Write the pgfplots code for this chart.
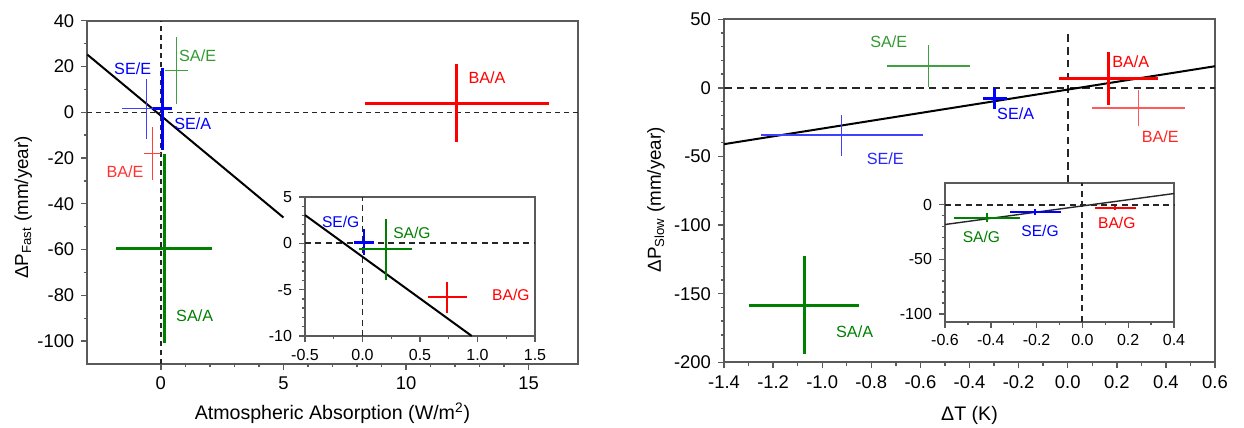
\documentclass[border=0pt]{standalone}
\usepackage{fontspec}
\setmainfont{Liberation Sans}
\usepackage{pgfplots}
\pgfplotsset{compat=1.18}
\definecolor{ogreen}{RGB}{0,128,0}
\definecolor{axgray}{RGB}{90,90,90}
\pgfplotsset{
  orig/.style={scale only axis, axis line style={color=axgray, line width=0.9pt},
    tick pos=left, tick align=outside, major tick length=3pt, minor tick length=1.7pt,
    every tick/.style={axgray, line width=0.7pt},
    /pgf/number format/assume math mode=true,
    tick label style={font=\fontsize{9.2}{11}\selectfont},
    clip=false},
  cross/.style n args={2}{draw=none, mark=none, forget plot,
    error bars/.cd, x dir=both, x explicit, y dir=both, y explicit, error mark=none,
    error bar style={draw=#1, line width=#2, solid}},
  zeroline/.style={black!85, line width=0.8pt, dash pattern=on 2.5pt off 2pt, forget plot},
}
\tikzset{
  lbl/.style={font=\fontsize{8.1}{9}\selectfont, inner sep=0pt},
  slbl/.style={font=\fontsize{7.8}{9}\selectfont, inner sep=0pt},
}
\begin{document}
\begin{tikzpicture}
\useasboundingbox (0,0) rectangle (622pt,214pt);
% ---------------- left main
\begin{axis}[orig, at={(43.65pt,32pt)}, anchor=south west, width=245.2pt, height=171.65pt,
  xmin=-3, xmax=17, ymin=-110, ymax=40,
  xtick={0,5,10,15}, ytick={-100,-80,-60,-40,-20,0,20,40},
  minor x tick num=4, minor y tick num=1,
  xlabel={Atmospheric Absorption (W/m\textsuperscript{2})},
  ylabel={ΔP\textsubscript{Fast} (mm/year)},
  every axis x label/.style={at={([yshift=-24.5pt]rel axis cs:0.5,0)}, anchor=center, font=\fontsize{9.8}{11}\selectfont},
  every axis y label/.style={at={([xshift=-32pt,yshift=-7.5pt]rel axis cs:0,0.5)}, rotate=90, anchor=center, font=\fontsize{9.4}{11}\selectfont},
]
\addplot[zeroline, line width=0.65pt, dash pattern=on 2.5pt off 2pt] coordinates {(0,-110) (0,40)};
\addplot[zeroline, line width=0.65pt, dash pattern=on 2.5pt off 2pt] coordinates {(-3,0) (17,0)};
\addplot[black, line width=1pt, forget plot] coordinates {(-3,25.2) (5,-46.0)};
\addplot[cross={blue!75}{0.6pt}] coordinates {(-0.58,1.5) +- (1.0,13.2)};
\addplot[cross={ogreen!75}{0.6pt}] coordinates {(0.63,18.3) +- (0.47,14.7)};
\addplot[cross={red!75}{0.6pt}] coordinates {(-0.35,-18.0) +- (0.34,11.4)};
\addplot[cross={blue}{1.5pt}] coordinates {(0.06,1.5) +- (0.4,18.0)};
\addplot[cross={ogreen}{1.5pt}] coordinates {(0.13,-59.5) +- (1.95,41.2)};
\addplot[cross={red}{1.5pt}] coordinates {(12.07,4.0) +- (3.74,17.2)};
\node[lbl, text=blue] at (axis cs:-1.15,19.1) {SE/E};
\node[lbl, text=ogreen!80] at (axis cs:1.5,24.9) {SA/E};
\node[lbl, text=blue] at (axis cs:1.3,-5) {SE/A};
\node[lbl, text=red!80] at (axis cs:-1.46,-26) {BA/E};
\node[lbl, text=red] at (axis cs:13.3,15.3) {BA/A};
\node[lbl, text=ogreen] at (axis cs:1.38,-89) {SA/A};
\end{axis}
% ---------------- left inset
\begin{axis}[orig, at={(152.5pt,46pt)}, anchor=south west, width=115pt, height=69.5pt,
  xmin=-0.5, xmax=1.5, ymin=-10, ymax=5,
  xtick={-0.5,0,0.5,1,1.5}, ytick={-10,-5,0,5},
  minor x tick num=1, minor y tick num=4,
  axis background/.style={fill=white},
  tick label style={font=\fontsize{8}{9}\selectfont},
  xticklabel style={/pgf/number format/.cd, fixed, fixed zerofill, precision=1},
]
\addplot[zeroline, line width=0.95pt, dash pattern=on 3pt off 2.2pt] coordinates {(0,-10) (0,5)};
\addplot[zeroline, line width=0.95pt, dash pattern=on 3pt off 2.2pt] coordinates {(-0.5,0) (1.5,0)};
\addplot[black, line width=1pt, forget plot] coordinates {(-0.5,3.05) (0.95,-10)};
\addplot[cross={blue}{1.1pt}] coordinates {(0.015,0.1) +- (0.087,1.4)};
\addplot[cross={ogreen}{1pt}] coordinates {(0.2,-0.65) +- (0.23,3.3)};
\addplot[cross={red}{1pt}] coordinates {(0.737,-5.8) +- (0.17,1.67)};
\node[slbl, text=blue] at (axis cs:-0.19,2.3) {SE/G};
\node[slbl, text=ogreen] at (axis cs:0.43,1.08) {SA/G};
\node[slbl, text=red] at (axis cs:1.29,-5.6) {BA/G};
\end{axis}
% ---------------- right main
\begin{axis}[orig, at={(362pt,32.85pt)}, anchor=south west, width=245.5pt, height=171.5pt,
  xmin=-1.4, xmax=0.6, ymin=-200, ymax=50,
  xtick={-1.4,-1.2,-1,-0.8,-0.6,-0.4,-0.2,0,0.2,0.4,0.6},
  ytick={-200,-150,-100,-50,0,50},
  minor x tick num=1, minor y tick num=4,
  xticklabel style={/pgf/number format/.cd, fixed, fixed zerofill, precision=1},
  xlabel={ΔT (K)},
  ylabel={ΔP\textsubscript{Slow} (mm/year)},
  every axis x label/.style={at={([yshift=-26.5pt]rel axis cs:0.5,0)}, anchor=center, font=\fontsize{9.8}{11}\selectfont},
  every axis y label/.style={at={([xshift=-34pt,yshift=-4.5pt]rel axis cs:0,0.5)}, rotate=90, anchor=center, font=\fontsize{9.4}{11}\selectfont},
]
\addplot[zeroline, line width=1pt, dash pattern=on 3.8pt off 2.6pt] coordinates {(0,-69) (0,42)};
\addplot[zeroline, line width=1pt, dash pattern=on 3.8pt off 2.6pt] coordinates {(-1.4,0) (0.6,0)};
\addplot[black, line width=1pt, forget plot] coordinates {(-1.4,-41) (0.6,15.8)};
\addplot[cross={ogreen!75}{0.6pt}] coordinates {(-0.568,16) +- (0.17,15)};
\addplot[cross={blue!75}{0.6pt}] coordinates {(-0.92,-34.4) +- (0.33,15)};
\addplot[cross={red!65}{0.6pt}] coordinates {(0.288,-14.6) +- (0.19,13.4)};
\addplot[cross={blue}{1.5pt}] coordinates {(-0.297,-7.7) +- (0.05,7.6)};
\addplot[cross={red}{1.5pt}] coordinates {(0.166,6.8) +- (0.2,19.4)};
\addplot[cross={ogreen}{1.5pt}] coordinates {(-1.074,-158.4) +- (0.225,35.7)};
\node[lbl, text=ogreen!80] at (axis cs:-0.729,33.5) {SA/E};
\node[lbl, text=blue!85] at (axis cs:-0.743,-51.4) {SE/E};
\node[lbl, text=blue] at (axis cs:-0.212,-19.1) {SE/A};
\node[lbl, text=red] at (axis cs:0.257,18.9) {BA/A};
\node[lbl, text=red!85] at (axis cs:0.377,-35.7) {BA/E};
\node[lbl, text=ogreen] at (axis cs:-0.868,-177.5) {SA/A};
\end{axis}
% ---------------- right inset
\begin{axis}[orig, at={(472.5pt,53.15pt)}, anchor=south west, width=114.5pt, height=69.5pt,
  xmin=-0.6, xmax=0.4, ymin=-107, ymax=20,
  xtick={-0.6,-0.4,-0.2,0,0.2,0.4}, ytick={-100,-50,0},
  minor x tick num=1, minor y tick num=4,
  axis background/.style={fill=white},
  tick label style={font=\fontsize{8}{9}\selectfont},
  xticklabel style={/pgf/number format/.cd, fixed, fixed zerofill, precision=1},
]
\addplot[zeroline, line width=0.95pt, dash pattern=on 3pt off 2.2pt] coordinates {(0,-107) (0,20)};
\addplot[zeroline, line width=0.95pt, dash pattern=on 3pt off 2.2pt] coordinates {(-0.6,0) (0.4,0)};
\addplot[black!85, line width=0.7pt, forget plot] coordinates {(-0.6,-18.2) (0.4,10.1)};
\addplot[cross={ogreen}{1pt}] coordinates {(-0.416,-11.8) +- (0.144,4.5)};
\addplot[cross={blue}{1pt}] coordinates {(-0.205,-6.7) +- (0.11,2.6)};
\addplot[cross={red}{1pt}] coordinates {(0.144,-3.1) +- (0.089,2)};
\node[slbl, text=ogreen] at (axis cs:-0.441,-29.4) {SA/G};
\node[slbl, text=blue] at (axis cs:-0.185,-24) {SE/G};
\node[slbl, text=red] at (axis cs:0.15,-17.2) {BA/G};
\end{axis}
\end{tikzpicture}
\end{document}
